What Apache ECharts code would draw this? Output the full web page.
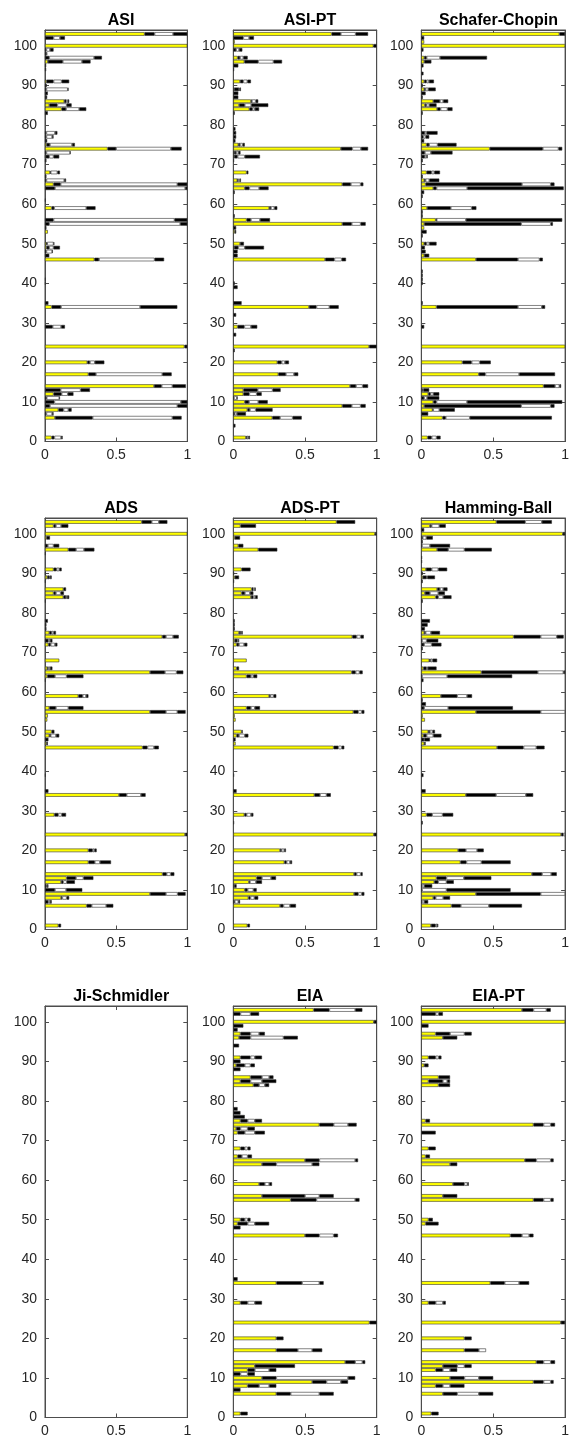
<!DOCTYPE html>
<html><head><meta charset="utf-8">
<script src="https://cdn.jsdelivr.net/npm/echarts@6/dist/echarts.min.js"></script>
<style>html,body{margin:0;padding:0;background:#fff}#c{width:572px;height:1448px}</style>
</head><body><div id="c"></div>
<script>
// Each row: [category, yellowEnd, black1End, whiteEnd, black2End] (missing ends = previous end)
const TITLES = ['ASI','ASI-PT','Schafer-Chopin','ADS','ADS-PT','Hamming-Ball','Ji-Schmidler','EIA','EIA-PT'];
const Y_TICKS = [0,10,20,30,40,50,60,70,80,90,100];
const X_TICKS = [0,0.5,1];

const ASI = [[103,0.70,0.77,0.90,1.0],[102,0,0.06,0.105,0.14],[100,1.0],[99,0,0.01,0.035,0.06],[98,0,0.01,0.01,0.015],
[97,0,0.03,0.345,0.40],[96,0.02,0.125,0.26,0.32],[95,0,0.008],[94,0,0.008],[91,0.01,0.06,0.117,0.17],[90,0,0.012],
[89,0,0.01,0.16,0.165],[88,0,0.02],[87,0,0.015],[86,0.135,0.15,0.16,0.17],[85,0.03,0.087,0.152,0.187],
[84,0.117,0.148,0.24,0.29],[83,0,0.02],[78,0,0.01,0.07,0.087],[77,0,0.01,0.05,0.06],[76,0,0.015],
[75,0.01,0.035,0.19,0.21],[74,0.44,0.5,0.885,0.96],[73,0,0.01,0.176,0.18],[72,0.005,0.03,0.06,0.1],[71,0,0.01],
[68,0.035,0.04,0.087,0.105],[67,0,0.01],[66,0,0.01,0.135,0.148],[65,0.06,0.11,0.93,1.0],[64,0,0.07,0.985,1.0],
[61,0,0.005],[59,0.047,0.065,0.29,0.355],[56,0,0.06,0.91,1.0],[55,0,0.03,0.95,1.0],[54,0,0.01],[53,0.02],
[50,0.01,0.015,0.06,0.065],[49,0.01,0.03,0.06,0.105],[48,0,0.01,0.05,0.055],[47,0,0.03],[46,0.347,0.38,0.77,0.837],
[41,0,0.005],[40,0,0.005],[35,0,0.024],[34,0.047,0.113,0.668,0.93],[29,0,0.054,0.113,0.14],[24,0.98,1.0],
[20,0.297,0.316,0.35,0.417],[17,0.305,0.358,0.824,0.89],[14,0.766,0.82,0.895,0.99],[13,0,0.11,0.25,0.316],
[12,0.06,0.117,0.16,0.2],[11,0,0.012,0.1,0.105],[10,0,0.066,0.955,1.0],[9,0,0.035,0.93,1.0],
[8,0.094,0.13,0.164,0.187],[7,0,0.01,0.05,0.06],[6,0.07,0.335,0.895,0.96],[1,0.047,0.066,0.113,0.124]];

const ASI_PT = [[103,0.686,0.75,0.853,0.94],[102,0,0.07,0.11,0.144],[101,0.01],[100,0.977,1.0],[99,0,0.02,0.04,0.063],
[97,0.03,0.047,0.07,0.1],[96,0.077,0.174,0.28,0.34],[95,0,0.035],[94,0,0.005],[91,0.047,0.07,0.098,0.123],
[89,0.005,0.04,0.045,0.053],[88,0,0.035],[87,0,0.035],[86,0.123,0.13,0.156,0.174],[85,0.04,0.08,0.125,0.244],
[84,0.112,0.135,0.15,0.18],[83,0,0.01],[79,0,0.015],[78,0,0.02],[77,0,0.02],[76,0,0.015],
[75,0.035,0.047,0.065,0.08],[74,0.75,0.83,0.89,0.94],[73,0.005,0.02,0.035,0.05],[72,0.005,0.03,0.08,0.186],[71,0,0.005],
[68,0.093,0.105],[66,0.028,0.035,0.045,0.053],[65,0.76,0.82,0.888,0.907],[64,0.08,0.112,0.18,0.246],[63,0,0.01],
[59,0.25,0.263,0.286,0.307],[57,0,0.01],[56,0.093,0.123,0.186,0.256],[55,0.76,0.826,0.888,0.923],[54,0,0.02],
[53,0.01,0.02],[50,0.047,0.074],[49,0.005,0.035,0.08,0.214],[48,0,0.03],[47,0,0.03],[46,0.64,0.705,0.756,0.786],
[40,0,0.01],[39,0,0.03],[35,0,0.058],[34,0.528,0.58,0.67,0.735],[32,0,0.02],[29,0.03,0.077,0.123,0.167],[27,0,0.02],
[24,0.947,1.0],[23,0,0.01],[20,0.307,0.337,0.36,0.388],[17,0.314,0.367,0.423,0.453],[14,0.814,0.856,0.902,0.94],
[13,0.07,0.17,0.274,0.33],[12,0.07,0.112,0.163,0.198],[11,0,0.005,0.025,0.03],[10,0.08,0.11,0.174,0.24],
[9,0.76,0.826,0.888,0.923],[8,0.098,0.116,0.156,0.274],[7,0,0.01,0.025,0.088],[6,0.272,0.326,0.414,0.477],[4,0,0.015],
[1,0.088,0.095,0.105,0.116]];

const SCHAFER = [[103,0.96,1.0],[102,0,0.02],[101,0.02],[100,1.0],[99,0,0.015],[97,0.02,0.037,0.13,0.457],[96,0.02,0.07],
[95,0,0.015],[93,0,0.015],[91,0.02,0.037,0.053,0.088],[90,0,0.01],[89,0.02,0.03,0.048,0.1],[88,0,0.03],[87,0,0.01],
[86,0.083,0.13,0.152,0.187],[85,0.025,0.037,0.055,0.106],[84,0.11,0.134,0.182,0.217],[83,0,0.01],
[78,0,0.025,0.037,0.113],[77,0,0.015,0.03,0.055],[76,0,0.02],[75,0.037,0.055,0.113,0.245],[74,0.476,0.845,0.954,0.98],
[73,0,0.025,0.067,0.217],[72,0,0.025,0.037,0.044],[71,0,0.01],[68,0.037,0.072,0.09,0.13],[67,0,0.01],
[66,0.02,0.03,0.055,0.125],[65,0.03,0.7,0.9,0.926],[64,0.083,0.106,0.319,0.99],[63,0,0.02],[62,0,0.01],
[59,0.04,0.205,0.35,0.383],[58,0,0.01],[57,0,0.01],[56,0.1,0.107,0.31,0.98],[55,0.02,0.695,0.9,0.915],[54,0.02],
[53,0,0.037],[52,0,0.01],[50,0.02,0.037,0.055,0.106],[49,0,0.025],[48,0,0.03],[47,0.02,0.055],[46,0.38,0.672,0.822,0.845],
[43,0,0.01],[42,0,0.01],[41,0,0.01],[40,0,0.01],[35,0,0.01],[34,0.106,0.672,0.838,0.861],[29,0,0.02],[24,1.0],
[20,0.286,0.35,0.406,0.483],[17,0.4,0.446,0.68,0.93],[14,0.85,0.93,0.96,0.972],[13,0.005,0.01,0.015,0.055],
[12,0.048,0.065,0.083,0.125],[11,0,0.02,0.04,0.125],[10,0.083,0.106,0.318,0.98],[9,0.02,0.695,0.9,0.926],
[8,0.078,0.083,0.125,0.233],[7,0,0.048],[6,0.148,0.17,0.337,0.908],[1,0.044,0.072,0.106,0.134]];

const ADS = [[103,0.68,0.75,0.8,0.86],[102,0.06,0.077,0.113,0.164],[100,1.0],[99,0.01,0.035],[97,0,0.02,0.06,0.1],
[96,0.164,0.218,0.274,0.347],[95,0,0.005],[91,0.06,0.082,0.1,0.117],[90,0,0.005],[89,0.016,0.03,0.035,0.047],[88,0,0.005],
[86,0.129,0.148],[85,0.06,0.077,0.11,0.133],[84,0.129,0.148,0.155,0.17],[83,0,0.005],[78,0,0.02],[77,0,0.01],[76,0,0.01],
[75,0.03,0.047,0.06,0.077],[74,0.824,0.85,0.9,0.94],[73,0,0.024,0.035,0.052],[72,0.024,0.04,0.07,0.087],[68,0.1],
[66,0.016,0.024,0.035,0.052],[65,0.738,0.843,0.925,0.972],[64,0.016,0.07,0.152,0.27],[63,0,0.005],
[59,0.234,0.265,0.288,0.305],[56,0.03,0.077,0.164,0.27],[55,0.738,0.85,0.93,0.988],[54,0.02],[53,0.016],
[50,0.047,0.066],[49,0.03,0.04,0.077,0.1],[48,0,0.024],[47,0.01,0.02],[46,0.686,0.72,0.766,0.8],[39,0,0.005],[35,0,0.024],
[34,0.52,0.574,0.674,0.707],[29,0.066,0.094,0.117,0.148],[24,0.984,1.0],[20,0.305,0.335,0.347,0.363],
[17,0.305,0.35,0.386,0.464],[14,0.826,0.855,0.883,0.909],[13,0.152,0.218,0.27,0.34],[12,0.113,0.129,0.152,0.21],
[11,0,0.01,0.015,0.024],[10,0,0.07,0.148,0.262],[9,0.738,0.85,0.932,0.988],[8,0.113,0.122,0.152,0.17],
[7,0,0.024,0.035,0.047],[6,0.293,0.328,0.43,0.48],[1,0.094,0.113]];

const ADS_PT = [[103,0.72,0.85],[102,0.05,0.158],[100,0.988,1.0],[99,0.01,0.047],[97,0.035,0.07],[96,0.174,0.307],
[91,0.058,0.12],[90,0,0.005],[89,0.01,0.04],[88,0,0.005],[86,0.128,0.14,0.15,0.156],[85,0.058,0.081,0.116,0.14],
[84,0.123,0.14,0.152,0.17],[78,0,0.01],[77,0,0.01],[76,0,0.01],[75,0.04,0.052,0.058,0.065],[74,0.83,0.86,0.888,0.91],
[73,0.01,0.028,0.035,0.04],[72,0.023,0.04,0.075,0.098],[68,0.093],[66,0.023,0.04],[65,0.826,0.853,0.88,0.902],
[64,0.093,0.123,0.14,0.167],[59,0.25,0.26,0.28,0.3],[56,0.093,0.123,0.15,0.186],[55,0.837,0.872,0.895,0.914],
[54,0.01],[53,0.016],[50,0.058,0.065],[49,0.023,0.04,0.08,0.105],[48,0,0.016],[47,0.016],[46,0.7,0.733,0.756,0.774],
[39,0,0.005],[35,0,0.023],[34,0.565,0.605,0.65,0.68],[29,0.077,0.093,0.123,0.14],[27,0,0.005],[24,0.98,1.0],
[20,0.326,0.337,0.355,0.367],[17,0.356,0.372,0.395,0.41],[14,0.842,0.86,0.888,0.902],[13,0.163,0.2,0.263,0.298],
[12,0.109,0.116,0.158,0.2],[11,0.005,0.023],[10,0.08,0.1,0.14,0.163],[9,0.842,0.872,0.895,0.914],
[8,0.105,0.12,0.147,0.174],[7,0,0.01,0.035,0.047],[6,0.326,0.35,0.395,0.437],[1,0.098,0.116]];

const HAMMING = [[103,0.522,0.723,0.838,0.908],[102,0.06,0.072,0.125,0.17],[101,0,0.02],[100,0.984,1.0],[99,0,0.01,0.035,0.08],
[98,0,0.01],[97,0,0.005,0.06,0.2],[96,0.11,0.187,0.3,0.49],[94,0,0.005],[93,0,0.005],[91,0.032,0.072,0.118,0.18],[90,0,0.01],
[89,0.01,0.037,0.042,0.095],[88,0,0.01],[86,0.11,0.13,0.152,0.182],[85,0.025,0.06,0.118,0.164],[84,0.1,0.118,0.152,0.21],
[83,0,0.01],[78,0,0.06],[77,0,0.044],[76,0,0.025],[75,0.02,0.03,0.067,0.13],[74,0.642,0.83,0.942,0.99],
[73,0,0.005,0.037,0.118],[72,0,0.02,0.072,0.14],[71,0,0.01],[68,0.055,0.065,0.078,0.11],[66,0.014,0.037,0.045,0.106],
[65,0.418,0.81,0.988,1.0],[64,0,0.005,0.18,0.632],[63,0,0.015],[59,0.136,0.25,0.318,0.353],[58,0,0.01],[57,0,0.032],
[56,0,0.02,0.187,0.637],[55,0.38,0.83,1.0],[54,0.01],[53,0.025],[50,0.048,0.06,0.078,0.095],[49,0.014,0.037,0.083,0.14],
[48,0,0.02,0.02,0.06],[47,0.02,0.03],[46,0.527,0.711,0.8,0.857],[39,0,0.015],[35,0,0.03],[34,0.31,0.52,0.727,0.778],
[29,0.037,0.076,0.148,0.222],[27,0,0.01],[24,0.972,0.988,1.0],[20,0.256,0.31,0.388,0.434],[17,0.272,0.314,0.418,0.621],
[14,0.769,0.84,0.903,0.942],[13,0.106,0.175,0.296,0.487],[12,0.09,0.118,0.175,0.226],[11,0,0.005,0.02,0.076],
[10,0,0.005,0.175,0.621],[9,0.38,0.83,1.0],[8,0.083,0.1,0.152,0.2],[7,0,0.005,0.02,0.048],[6,0.21,0.275,0.47,0.7],
[1,0.067,0.1,0.11,0.118]];

const JI = [];

const EIA = [[103,0.56,0.67,0.85,0.9],[102,0,0.05,0.12,0.18],[100,0.98,1.0],[99,0,0.07],[98,0,0.03],[97,0.05,0.12,0.18,0.22],
[96,0.04,0.12,0.35,0.45],[94,0,0.04],[91,0.05,0.12,0.15,0.2],[90,0,0.05],[89,0.02,0.08,0.12,0.15],[88,0,0.05],
[86,0.12,0.2,0.25,0.28],[85,0.05,0.12,0.2,0.3],[84,0.14,0.18,0.22,0.25],[78,0,0.03],[77,0,0.05],[76,0,0.08],
[75,0.05,0.1,0.15,0.2],[74,0.6,0.7,0.8,0.86],[73,0.02,0.05,0.1,0.15],[72,0.03,0.08,0.15,0.22],[68,0.05,0.08,0.1,0.12],
[66,0.03,0.06,0.1,0.13],[65,0.5,0.6,0.85,0.87],[64,0.2,0.3,0.55,0.6],[59,0.18,0.22,0.25,0.27],[56,0.2,0.5,0.6,0.7],
[55,0.4,0.58,0.85,0.88],[50,0.05,0.08,0.1,0.12],[49,0.03,0.1,0.15,0.25],[48,0,0.05],[46,0.5,0.6,0.7,0.73],[35,0,0.03],
[34,0.3,0.48,0.6,0.63],[29,0.05,0.1,0.15,0.2],[24,0.95,1.0],[20,0.3,0.35],[17,0.3,0.45,0.55,0.62],[14,0.78,0.85,0.9,0.92],
[13,0.15,0.43],[12,0.1,0.15,0.25,0.3],[11,0,0.05,0.1,0.15],[10,0.2,0.3,0.8,0.85],[9,0.55,0.65,0.75,0.8],
[8,0.1,0.18,0.25,0.3],[7,0,0.05],[6,0.3,0.4,0.6,0.7],[1,0.05,0.1]];

const EIA_PT = [[103,0.7,0.78,0.87,0.9],[102,0,0.1,0.12,0.15],[100,1.0],[99,0,0.05],[97,0.1,0.2,0.3,0.35],[96,0.15,0.25],
[91,0.05,0.1,0.12,0.14],[89,0.02,0.05],[86,0.12,0.2],[85,0.05,0.15,0.18,0.2],[84,0.12,0.2],[75,0.03,0.06],
[74,0.78,0.85,0.9,0.93],[72,0,0.1],[68,0.05,0.1],[66,0.03,0.06],[65,0.72,0.8,0.9,0.92],[64,0.2,0.25],
[59,0.22,0.3,0.32,0.33],[56,0.15,0.25],[55,0.78,0.85,0.9,0.92],[50,0.05,0.08],[49,0.03,0.12],[46,0.62,0.7,0.75,0.78],
[34,0.48,0.58,0.68,0.75],[29,0.05,0.1,0.15,0.17],[24,0.97,1.0],[20,0.3,0.35],[17,0.3,0.4,0.45],[14,0.8,0.85,0.9,0.93],
[13,0.15,0.25,0.3,0.35],[12,0.1,0.15,0.2,0.25],[10,0.2,0.3,0.4,0.5],[9,0.78,0.85,0.9,0.92],[8,0.1,0.15,0.2,0.3],
[6,0.15,0.25,0.4,0.5],[1,0.07,0.12]];

const PANEL_DATA = [ASI, ASI_PT, SCHAFER, ADS, ADS_PT, HAMMING, JI, EIA, EIA_PT];

const CATS = Array.from({length:105}, (_, i) => String(i));
const LEFTS = [45, 233.3, 421.3], WIDTHS = [142.3, 143.4, 144.4];
const TOPS = [30, 518, 1006], HEIGHT = 411.5;
const COLORS = ['#ffff00', '#000000', '#ffffff', '#000000'];
const AXIS_COLOR = '#4d4d4d', TEXT_COLOR = '#262626', FONT = 'Liberation Sans, Arial, Helvetica, sans-serif';

function segments(rows) {
  const out = [[], [], [], []];
  for (let i = 0; i < 105; i++) out.forEach(a => a.push(null));
  rows.forEach(r => {
    const ends = [r[1]];
    for (let k = 2; k <= 4; k++) ends.push(r[k] !== undefined ? r[k] : ends[ends.length - 1]);
    const lens = [ends[0], ends[1] - ends[0], ends[2] - ends[1], ends[3] - ends[2]];
    lens.forEach((v, s) => { out[s][r[0]] = v > 1e-6 ? +v.toFixed(4) : null; });
  });
  return out;
}

const grid = [], xAxis = [], yAxis = [], series = [], title = [];
PANEL_DATA.forEach((rows, p) => {
  const col = p % 3, row = Math.floor(p / 3);
  grid.push({left: LEFTS[col], top: TOPS[row], width: WIDTHS[col], height: HEIGHT,
    show: true, borderColor: AXIS_COLOR, borderWidth: 1, backgroundColor: '#fff', containLabel: false});
  title.push({text: TITLES[p], left: LEFTS[col] + WIDTHS[col] / 2, top: TOPS[row] - 22, textAlign: 'center',
    textStyle: {fontSize: 16, fontWeight: 'bold', color: '#000', fontFamily: FONT}});
  const tickShow = (i) => i % 10 === 0 && i <= 100;
  xAxis.push({type: 'value', gridIndex: p, min: 0, max: 1, interval: 0.5, position: 'bottom',
    axisLine: {show: true, onZero: false, lineStyle: {color: AXIS_COLOR}},
    axisTick: {show: true, inside: true, length: 4, lineStyle: {color: AXIS_COLOR}},
    axisLabel: {color: TEXT_COLOR, fontSize: 14, fontFamily: FONT, margin: 7, formatter: v => String(v)},
    splitLine: {show: false}});
  xAxis.push({type: 'value', gridIndex: p, min: 0, max: 1, interval: 0.5, position: 'top',
    axisLine: {show: true, onZero: false, lineStyle: {color: AXIS_COLOR}},
    axisTick: {show: true, inside: true, length: 4, lineStyle: {color: AXIS_COLOR}},
    axisLabel: {show: false}, splitLine: {show: false}});
  yAxis.push({type: 'category', gridIndex: p, data: CATS, boundaryGap: false, position: 'left',
    axisLine: {show: true, onZero: false, lineStyle: {color: AXIS_COLOR}},
    axisTick: {show: true, inside: true, length: 4, interval: tickShow, lineStyle: {color: AXIS_COLOR}},
    axisLabel: {color: TEXT_COLOR, fontSize: 14, fontFamily: FONT, margin: 8, interval: tickShow},
    splitLine: {show: false}});
  yAxis.push({type: 'category', gridIndex: p, data: CATS, boundaryGap: false, position: 'right',
    axisLine: {show: true, onZero: false, lineStyle: {color: AXIS_COLOR}},
    axisTick: {show: true, inside: true, length: 4, interval: tickShow, lineStyle: {color: AXIS_COLOR}},
    axisLabel: {show: false}, splitLine: {show: false}});
  const segs = segments(rows);
  segs.forEach((d, s) => {
    series.push({type: 'bar', xAxisIndex: 2 * p, yAxisIndex: 2 * p, stack: 'p' + p, data: d,
      barWidth: 3.6, silent: true,
      itemStyle: {color: COLORS[s], borderColor: '#333333', borderWidth: 0.6}});
  });
});

const chart = echarts.init(document.getElementById('c'), null, {renderer: 'canvas'});
chart.setOption({animation: false, backgroundColor: '#fff', title, grid, xAxis, yAxis, series});
</script></body></html>
